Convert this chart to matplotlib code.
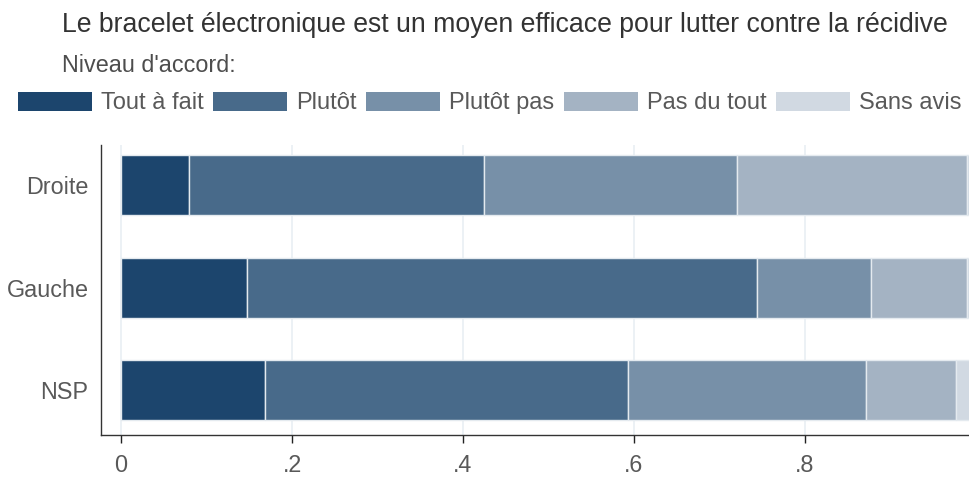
import numpy as np
import matplotlib
matplotlib.use("Agg")
import matplotlib.pyplot as plt
from matplotlib.patches import Patch

plt.rcParams['font.family'] = ['Liberation Sans', 'DejaVu Sans']

# données
categories = ["Droite", "Gauche", "NSP"]
series_names = ["Tout à fait", "Plutôt", "Plutôt pas", "Pas du tout", "Sans avis"]
tout_a_fait = [0.080, 0.147, 0.168]
plutot      = [0.345, 0.597, 0.425]
plutot_pas  = [0.295, 0.133, 0.278]
pas_du_tout = [0.270, 0.112, 0.106]
sans_avis   = [0.010, 0.011, 0.023]
xticks = [0, 0.2, 0.4, 0.6, 0.8]
xtick_labels = ["0", ".2", ".4", ".6", ".8"]

colors = ["#1c456d", "#486a8a", "#7790a8", "#a4b3c3", "#d1d9e2"]
grey = "#595959"

fig = plt.figure(figsize=(9.7, 4.78), dpi=100)
ax = fig.add_axes([101/970, 43/478, 1 - 101/970, 290/478])

y = np.arange(len(categories))
left = np.zeros(len(categories))
for vals, name, c in zip([tout_a_fait, plutot, plutot_pas, pas_du_tout, sans_avis], series_names, colors):
    ax.barh(y, vals, left=left, height=0.585, color=c, edgecolor="#e4eaef", linewidth=1.0, zorder=3, label=name)
    left += np.array(vals)

ax.set_xlim(-0.0234, 0.993)
ax.set_ylim(2.436, -0.393)
ax.set_xticks(xticks)
ax.set_xticklabels(xtick_labels)
ax.set_yticks(y)
ax.set_yticklabels(categories)
ax.tick_params(axis="x", length=6, width=1, color="#222222", labelcolor=grey, labelsize=16.8, pad=8, direction="out")
ax.tick_params(axis="y", length=0, labelcolor=grey, labelsize=16.8, pad=9)
ax.grid(axis="x", color="#eaf0f4", linewidth=1.3, zorder=0)
ax.set_axisbelow(True)
for s in ["top", "right"]:
    ax.spines[s].set_visible(False)
for s in ["left", "bottom"]:
    ax.spines[s].set_color("#333333")
    ax.spines[s].set_linewidth(1.0)

fig.text(62/970, 1 - 25/478, "Le bracelet électronique est un moyen efficace pour lutter contre la récidive",
         fontsize=19.2, color="#333333", va="center", ha="left")
fig.text(62/970, 1 - 66/478, "Niveau d'accord:", fontsize=16.8, color="#4d4d4d", va="center", ha="left")

handles = [Patch(facecolor=c, edgecolor="none") for c in colors]
fig.legend(handles, series_names, loc="center left", bbox_to_anchor=(18/970, 1 - 103/478), ncol=5,
           frameon=False, fontsize=17, labelcolor=grey, handlelength=3.12, handleheight=0.89,
           handletextpad=0.4, columnspacing=0.4, borderpad=0, borderaxespad=0)

fig.savefig("out.png", dpi=100)
